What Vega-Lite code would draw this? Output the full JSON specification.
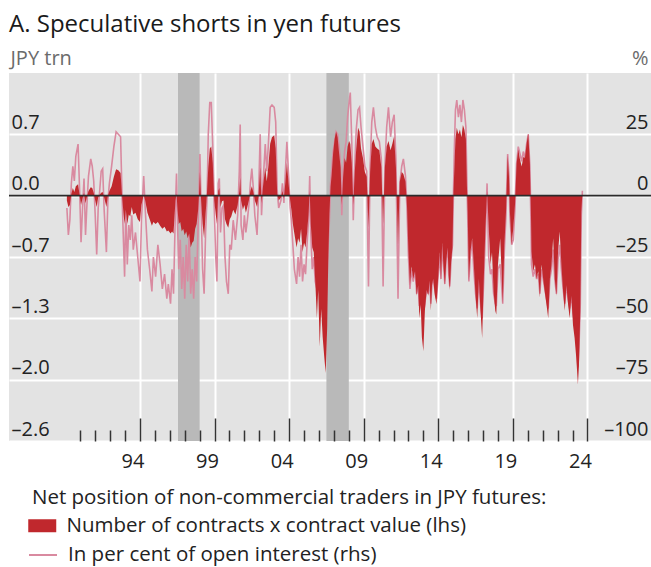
{
  "$schema": "https://vega.github.io/schema/vega-lite/v6.json",
  "width": 642,
  "height": 368,
  "autosize": {"type": "none"},
  "padding": {"left": 9, "top": 73, "right": 0, "bottom": 126},
  "background": "white",
  "config": {
    "view": {"fill": "#e3e3e3", "stroke": null},
    "font": "Open Sans"
  },
  "title": {
    "text": "A. Speculative shorts in yen futures",
    "anchor": "start",
    "frame": "group",
    "fontSize": 24,
    "fontWeight": "normal",
    "color": "#1a1a1a",
    "offset": 11
  },
  "datasets": {
    "bands": [{"s": 1997.55, "e": 1999.0}, {"s": 2007.5, "e": 2009.0}],
    "series": [
      {"t":1990.10,"v":-0.05,"p":-5},{"t":1990.20,"v":-0.12,"p":-16},{"t":1990.30,"v":-0.10,"p":-10},{"t":1990.40,"v":0.02,"p":5},
      {"t":1990.50,"v":0.08,"p":12},{"t":1990.60,"v":0.04,"p":6},{"t":1990.70,"v":0.10,"p":16},{"t":1990.85,"v":0.12,"p":21},
      {"t":1990.95,"v":0.01,"p":3},{"t":1991.05,"v":-0.10,"p":-19},{"t":1991.15,"v":-0.03,"p":-5},{"t":1991.25,"v":0.03,"p":7},
      {"t":1991.35,"v":-0.08,"p":-16},{"t":1991.45,"v":-0.01,"p":-3},{"t":1991.55,"v":0.05,"p":8},{"t":1991.70,"v":0.09,"p":15},
      {"t":1991.80,"v":0.08,"p":12},{"t":1991.90,"v":0.03,"p":6},{"t":1992.00,"v":-0.05,"p":-8},{"t":1992.10,"v":-0.12,"p":-24},
      {"t":1992.20,"v":-0.02,"p":-5},{"t":1992.30,"v":0.01,"p":2},{"t":1992.40,"v":0.03,"p":10},{"t":1992.50,"v":0.04,"p":11},
      {"t":1992.60,"v":-0.02,"p":-6},{"t":1992.75,"v":-0.12,"p":-23},{"t":1992.85,"v":0.00,"p":-2},{"t":1992.95,"v":0.05,"p":5},
      {"t":1993.10,"v":0.10,"p":12},{"t":1993.25,"v":0.20,"p":20},{"t":1993.40,"v":0.28,"p":26},{"t":1993.55,"v":0.27,"p":25},
      {"t":1993.70,"v":0.24,"p":24},{"t":1993.80,"v":0.00,"p":0},{"t":1993.90,"v":-0.20,"p":-20},{"t":1993.97,"v":-0.30,"p":-33},
      {"t":1994.05,"v":-0.15,"p":-5},{"t":1994.15,"v":-0.30,"p":-28},{"t":1994.25,"v":-0.20,"p":-12},{"t":1994.35,"v":-0.22,"p":-18},
      {"t":1994.45,"v":-0.12,"p":-8},{"t":1994.55,"v":-0.20,"p":-22},{"t":1994.70,"v":-0.18,"p":-15},{"t":1994.85,"v":-0.25,"p":-25},
      {"t":1995.00,"v":-0.28,"p":-35},{"t":1995.10,"v":-0.10,"p":-10},{"t":1995.25,"v":0.01,"p":8},{"t":1995.35,"v":-0.05,"p":-5},
      {"t":1995.50,"v":-0.18,"p":-22},{"t":1995.65,"v":-0.25,"p":-30},{"t":1995.80,"v":-0.32,"p":-39},{"t":1995.90,"v":-0.28,"p":-25},
      {"t":1996.05,"v":-0.30,"p":-33},{"t":1996.20,"v":-0.28,"p":-20},{"t":1996.35,"v":-0.32,"p":-28},{"t":1996.50,"v":-0.35,"p":-38},
      {"t":1996.65,"v":-0.33,"p":-32},{"t":1996.80,"v":-0.38,"p":-42},{"t":1996.90,"v":-0.37,"p":-36},{"t":1997.05,"v":-0.40,"p":-44},
      {"t":1997.15,"v":-0.38,"p":-30},{"t":1997.25,"v":-0.40,"p":-40},{"t":1997.38,"v":-0.05,"p":-5},{"t":1997.45,"v":0.02,"p":9},
      {"t":1997.52,"v":-0.15,"p":-12},{"t":1997.60,"v":-0.30,"p":-30},{"t":1997.70,"v":-0.28,"p":-18},{"t":1997.80,"v":-0.38,"p":-38},
      {"t":1997.90,"v":-0.35,"p":-25},{"t":1998.00,"v":-0.42,"p":-42},{"t":1998.10,"v":-0.38,"p":-20},{"t":1998.20,"v":-0.45,"p":-35},
      {"t":1998.30,"v":-0.40,"p":-15},{"t":1998.40,"v":-0.55,"p":-40},{"t":1998.50,"v":-0.50,"p":-30},{"t":1998.60,"v":-0.48,"p":-42},
      {"t":1998.70,"v":-0.35,"p":-25},{"t":1998.80,"v":-0.30,"p":-35},{"t":1998.90,"v":-0.15,"p":-12},{"t":1998.97,"v":0.05,"p":5},
      {"t":1999.02,"v":0.25,"p":17},{"t":1999.10,"v":-0.05,"p":-5},{"t":1999.20,"v":-0.30,"p":-30},{"t":1999.30,"v":-0.45,"p":-40},
      {"t":1999.40,"v":-0.20,"p":-15},{"t":1999.50,"v":0.05,"p":0},{"t":1999.58,"v":0.30,"p":25},{"t":1999.68,"v":0.50,"p":38},
      {"t":1999.78,"v":0.52,"p":38},{"t":1999.88,"v":0.35,"p":20},{"t":1999.98,"v":-0.05,"p":-5},{"t":2000.08,"v":-0.20,"p":-25},
      {"t":2000.16,"v":-0.30,"p":-35},{"t":2000.25,"v":0.05,"p":5},{"t":2000.32,"v":0.08,"p":7},{"t":2000.40,"v":-0.12,"p":-15},
      {"t":2000.50,"v":-0.06,"p":-5},{"t":2000.60,"v":-0.05,"p":-4},{"t":2000.70,"v":-0.25,"p":-25},{"t":2000.80,"v":-0.30,"p":-35},
      {"t":2000.92,"v":-0.34,"p":-40},{"t":2001.02,"v":-0.25,"p":-20},{"t":2001.12,"v":-0.22,"p":-22},{"t":2001.25,"v":-0.15,"p":-10},
      {"t":2001.40,"v":-0.20,"p":-18},{"t":2001.55,"v":-0.10,"p":-8},{"t":2001.66,"v":0.05,"p":10},{"t":2001.72,"v":0.19,"p":29},
      {"t":2001.78,"v":-0.05,"p":-12},{"t":2001.90,"v":-0.15,"p":-18},{"t":2002.00,"v":-0.10,"p":-8},{"t":2002.10,"v":-0.18,"p":-15},
      {"t":2002.20,"v":-0.12,"p":-10},{"t":2002.30,"v":-0.05,"p":-4},{"t":2002.40,"v":0.05,"p":5},{"t":2002.50,"v":0.10,"p":11},
      {"t":2002.60,"v":0.04,"p":3},{"t":2002.70,"v":-0.05,"p":-8},{"t":2002.85,"v":-0.12,"p":-16},{"t":2002.95,"v":0.00,"p":0},
      {"t":2003.06,"v":0.30,"p":25},{"t":2003.15,"v":-0.08,"p":-8},{"t":2003.25,"v":0.10,"p":5},{"t":2003.40,"v":0.30,"p":21},
      {"t":2003.50,"v":0.15,"p":10},{"t":2003.60,"v":0.30,"p":20},{"t":2003.73,"v":0.55,"p":36},{"t":2003.85,"v":0.62,"p":37},
      {"t":2004.00,"v":0.64,"p":36},{"t":2004.10,"v":0.50,"p":30},{"t":2004.20,"v":0.02,"p":2},{"t":2004.30,"v":-0.05,"p":-5},
      {"t":2004.45,"v":-0.02,"p":-2},{"t":2004.55,"v":0.05,"p":5},{"t":2004.65,"v":-0.03,"p":-3},{"t":2004.75,"v":0.15,"p":10},
      {"t":2004.85,"v":0.35,"p":22},{"t":2004.95,"v":0.15,"p":10},{"t":2005.07,"v":-0.05,"p":-5},{"t":2005.15,"v":-0.15,"p":-10},
      {"t":2005.25,"v":-0.30,"p":-20},{"t":2005.35,"v":-0.40,"p":-30},{"t":2005.50,"v":-0.55,"p":-36},{"t":2005.60,"v":-0.45,"p":-25},
      {"t":2005.70,"v":-0.50,"p":-33},{"t":2005.80,"v":-0.35,"p":-20},{"t":2005.90,"v":-0.60,"p":-35},{"t":2006.00,"v":-0.50,"p":-28},
      {"t":2006.10,"v":-0.55,"p":-32},{"t":2006.20,"v":-0.40,"p":-20},{"t":2006.30,"v":-0.20,"p":-10},{"t":2006.38,"v":0.05,"p":8},
      {"t":2006.45,"v":-0.30,"p":-15},{"t":2006.55,"v":-0.55,"p":-30},{"t":2006.65,"v":-0.60,"p":-25},{"t":2006.75,"v":-0.90,"p":-35},
      {"t":2006.86,"v":-1.30,"p":-38},{"t":2006.95,"v":-1.00,"p":-30},{"t":2007.05,"v":-1.60,"p":-40},{"t":2007.15,"v":-1.20,"p":-35},
      {"t":2007.25,"v":-1.50,"p":-38},{"t":2007.35,"v":-1.70,"p":-42},{"t":2007.45,"v":-1.88,"p":-45},{"t":2007.55,"v":-1.40,"p":-35},
      {"t":2007.62,"v":-0.70,"p":-20},{"t":2007.70,"v":-0.20,"p":-10},{"t":2007.78,"v":0.10,"p":5},{"t":2007.85,"v":0.22,"p":10},
      {"t":2007.95,"v":0.45,"p":18},{"t":2008.05,"v":0.60,"p":22},{"t":2008.15,"v":0.68,"p":26},{"t":2008.25,"v":0.62,"p":25},
      {"t":2008.35,"v":0.45,"p":20},{"t":2008.45,"v":0.30,"p":12},{"t":2008.53,"v":-0.10,"p":-8},{"t":2008.62,"v":0.20,"p":10},
      {"t":2008.72,"v":0.40,"p":18},{"t":2008.82,"v":0.35,"p":22},{"t":2008.92,"v":0.52,"p":32},{"t":2009.02,"v":0.58,"p":38},
      {"t":2009.10,"v":0.55,"p":42},{"t":2009.20,"v":0.35,"p":22},{"t":2009.30,"v":-0.10,"p":-10},{"t":2009.40,"v":0.25,"p":12},
      {"t":2009.50,"v":0.50,"p":27},{"t":2009.62,"v":0.72,"p":35},{"t":2009.72,"v":0.68,"p":36},{"t":2009.82,"v":0.50,"p":28},
      {"t":2009.95,"v":0.40,"p":20},{"t":2010.08,"v":0.25,"p":12},{"t":2010.20,"v":0.20,"p":10},{"t":2010.32,"v":-0.34,"p":-37},
      {"t":2010.43,"v":0.25,"p":12},{"t":2010.54,"v":0.55,"p":30},{"t":2010.65,"v":0.60,"p":36},{"t":2010.78,"v":0.52,"p":28},
      {"t":2010.90,"v":0.50,"p":24},{"t":2011.05,"v":0.48,"p":22},{"t":2011.18,"v":0.30,"p":15},{"t":2011.30,"v":-0.30,"p":-37},
      {"t":2011.42,"v":0.30,"p":12},{"t":2011.54,"v":0.52,"p":28},{"t":2011.66,"v":0.58,"p":36},{"t":2011.80,"v":0.48,"p":24},
      {"t":2011.92,"v":0.55,"p":30},{"t":2012.04,"v":0.63,"p":33},{"t":2012.16,"v":0.30,"p":15},{"t":2012.30,"v":-0.52,"p":-42},
      {"t":2012.42,"v":0.15,"p":5},{"t":2012.55,"v":0.25,"p":12},{"t":2012.66,"v":0.23,"p":15},{"t":2012.80,"v":0.15,"p":8},
      {"t":2012.90,"v":-0.10,"p":-5},{"t":2013.00,"v":-0.60,"p":-25},{"t":2013.10,"v":-0.95,"p":-38},{"t":2013.20,"v":-0.75,"p":-30},
      {"t":2013.32,"v":-0.88,"p":-35},{"t":2013.44,"v":-0.80,"p":-30},{"t":2013.55,"v":-1.06,"p":-40},{"t":2013.65,"v":-0.95,"p":-36},
      {"t":2013.73,"v":-1.30,"p":-45},{"t":2013.82,"v":-1.15,"p":-42},{"t":2013.90,"v":-1.50,"p":-47},{"t":2014.00,"v":-1.65,"p":-48},
      {"t":2014.10,"v":-1.22,"p":-44},{"t":2014.22,"v":-1.00,"p":-38},{"t":2014.33,"v":-1.06,"p":-40},{"t":2014.42,"v":-0.90,"p":-34},
      {"t":2014.50,"v":-1.22,"p":-44},{"t":2014.58,"v":-0.95,"p":-36},{"t":2014.66,"v":-0.88,"p":-33},{"t":2014.76,"v":-1.05,"p":-38},
      {"t":2014.88,"v":-1.15,"p":-42},{"t":2015.00,"v":-0.85,"p":-32},{"t":2015.10,"v":-0.60,"p":-24},{"t":2015.18,"v":-0.90,"p":-34},
      {"t":2015.26,"v":-0.50,"p":-20},{"t":2015.35,"v":-0.75,"p":-28},{"t":2015.44,"v":-0.95,"p":-36},{"t":2015.53,"v":-0.70,"p":-26},
      {"t":2015.62,"v":-0.55,"p":-20},{"t":2015.70,"v":-0.85,"p":-32},{"t":2015.77,"v":-1.00,"p":-37},{"t":2015.86,"v":-0.70,"p":-26},
      {"t":2015.95,"v":-0.55,"p":-20},{"t":2016.02,"v":0.05,"p":2},{"t":2016.08,"v":0.30,"p":20},{"t":2016.15,"v":0.60,"p":35},
      {"t":2016.24,"v":0.72,"p":39},{"t":2016.35,"v":0.65,"p":32},{"t":2016.45,"v":0.70,"p":37},{"t":2016.55,"v":0.62,"p":30},
      {"t":2016.65,"v":0.75,"p":39},{"t":2016.75,"v":0.70,"p":35},{"t":2016.85,"v":0.60,"p":28},{"t":2016.92,"v":0.10,"p":5},
      {"t":2016.97,"v":-0.17,"p":-8},{"t":2017.05,"v":-0.90,"p":-35},{"t":2017.16,"v":-0.59,"p":-24},{"t":2017.27,"v":-0.45,"p":-18},
      {"t":2017.38,"v":-0.73,"p":-30},{"t":2017.50,"v":-1.06,"p":-40},{"t":2017.61,"v":-1.30,"p":-46},{"t":2017.72,"v":-0.88,"p":-34},
      {"t":2017.83,"v":-1.22,"p":-44},{"t":2017.94,"v":-1.51,"p":-50},{"t":2018.05,"v":-0.88,"p":-34},{"t":2018.16,"v":-0.34,"p":-15},
      {"t":2018.27,"v":0.05,"p":5},{"t":2018.38,"v":-0.34,"p":-25},{"t":2018.50,"v":-0.73,"p":-32},{"t":2018.60,"v":-0.60,"p":-30},
      {"t":2018.71,"v":-1.02,"p":-40},{"t":2018.82,"v":-1.22,"p":-44},{"t":2018.89,"v":-1.26,"p":-45},{"t":2019.00,"v":-0.73,"p":-30},
      {"t":2019.15,"v":-0.45,"p":-28},{"t":2019.26,"v":-0.88,"p":-38},{"t":2019.32,"v":-1.15,"p":-44},{"t":2019.43,"v":-0.52,"p":-22},
      {"t":2019.54,"v":-0.17,"p":-8},{"t":2019.65,"v":0.43,"p":17},{"t":2019.74,"v":0.20,"p":8},{"t":2019.80,"v":-0.17,"p":-8},
      {"t":2019.92,"v":-0.52,"p":-20},{"t":2020.03,"v":-0.34,"p":-18},{"t":2020.14,"v":-0.10,"p":-5},{"t":2020.25,"v":0.34,"p":13},
      {"t":2020.36,"v":0.49,"p":20},{"t":2020.48,"v":0.38,"p":17},{"t":2020.59,"v":0.31,"p":14},{"t":2020.70,"v":0.41,"p":18},
      {"t":2020.81,"v":0.40,"p":15},{"t":2020.92,"v":0.55,"p":21},{"t":2021.03,"v":0.66,"p":25},{"t":2021.14,"v":0.34,"p":12},
      {"t":2021.21,"v":-0.17,"p":-10},{"t":2021.25,"v":-0.59,"p":-28},{"t":2021.36,"v":-0.80,"p":-33},{"t":2021.48,"v":-0.73,"p":-30},
      {"t":2021.59,"v":-0.88,"p":-34},{"t":2021.70,"v":-0.80,"p":-32},{"t":2021.81,"v":-1.08,"p":-40},{"t":2021.92,"v":-0.73,"p":-30},
      {"t":2022.03,"v":-0.88,"p":-34},{"t":2022.14,"v":-1.02,"p":-38},{"t":2022.25,"v":-1.15,"p":-42},{"t":2022.37,"v":-1.30,"p":-46},
      {"t":2022.48,"v":-0.88,"p":-34},{"t":2022.59,"v":-0.73,"p":-30},{"t":2022.70,"v":-0.45,"p":-22},{"t":2022.81,"v":-0.88,"p":-34},
      {"t":2022.92,"v":-1.06,"p":-40},{"t":2023.03,"v":-0.59,"p":-26},{"t":2023.14,"v":-0.38,"p":-20},{"t":2023.25,"v":-0.73,"p":-30},
      {"t":2023.37,"v":-1.02,"p":-38},{"t":2023.48,"v":-1.22,"p":-44},{"t":2023.59,"v":-0.95,"p":-36},{"t":2023.70,"v":-1.15,"p":-42},
      {"t":2023.81,"v":-1.30,"p":-46},{"t":2023.92,"v":-1.06,"p":-40},{"t":2024.03,"v":-1.37,"p":-48},{"t":2024.14,"v":-1.51,"p":-52},
      {"t":2024.25,"v":-1.72,"p":-58},{"t":2024.36,"v":-2.00,"p":-70},{"t":2024.43,"v":-1.80,"p":-62},{"t":2024.52,"v":-1.22,"p":-44},
      {"t":2024.59,"v":-0.17,"p":-8},{"t":2024.66,"v":0.03,"p":2}
    ]
  },
  "layer": [
    {
      "data": {"name": "bands"},
      "mark": {"type": "rect", "color": "#b9b9b9"},
      "encoding": {
        "x": {
          "field": "s", "type": "quantitative",
          "scale": {"domain": [1986.22, 2029.26], "nice": false, "zero": false},
          "axis": {
            "orient": "bottom",
            "values": [1995, 2000, 2005, 2010, 2015, 2020, 2025],
            "grid": true, "gridColor": "white", "gridWidth": 2, "gridOpacity": 1,
            "ticks": false, "labels": false, "domain": false, "title": null, "zindex": 0
          }
        },
        "x2": {"field": "e"}
      }
    },
    {
      "data": {"name": "series"},
      "mark": {"type": "line", "strokeWidth": 1.6, "interpolate": "linear"},
      "encoding": {
        "x": {
          "field": "t", "type": "quantitative",
          "scale": {"domain": [1986.22, 2029.26], "nice": false, "zero": false},
          "axis": {
            "orient": "bottom",
            "values": [1991,1992,1993,1994,1996,1997,1998,1999,2001,2002,2003,2004,2006,2007,2008,2009,2011,2012,2013,2014,2016,2017,2018,2019,2021,2022,2023,2024],
            "grid": false, "ticks": true, "tickSize": -11, "tickColor": "#333333", "tickWidth": 1.5,
            "labels": false, "domain": false, "title": null, "zindex": 1
          }
        },
        "y": {
          "field": "p", "type": "quantitative",
          "scale": {"domain": [-100, 50], "nice": false, "zero": false},
          "axis": {
            "orient": "right",
            "values": [25, 0, -25, -50, -75, -100],
            "labelExpr": "datum.value < 0 ? '–' + format(-datum.value, 'd') : format(datum.value, 'd')",
            "grid": false, "ticks": false, "tickSize": 0, "domain": false,
            "labelAlign": "right", "labelBaseline": "alphabetic", "labelPadding": -3, "labelOffset": -6,
            "labelFontSize": 20, "labelColor": "#222222", "labelFlush": false,
            "title": "%", "titleAngle": 0, "titleAlign": "right", "titleBaseline": "alphabetic",
            "titleX": -3, "titleY": -9, "titleFontSize": 20, "titleFontWeight": "normal", "titleColor": "#6b6b6b",
            "zindex": 1
          }
        },
        "stroke": {
          "datum": "In per cent of open interest (rhs)", "type": "nominal",
          "scale": {"domain": ["In per cent of open interest (rhs)"], "range": ["#d98aa0"]},
          "legend": {
            "orient": "none", "legendX": 23, "legendY": 471, "direction": "vertical",
            "title": null,
            "labelFontSize": 20.5, "labelColor": "#222222", "labelLimit": 700, "labelOffset": 14,
            "symbolType": "M-1.4,0H1.4", "symbolSize": 400, "symbolStrokeWidth": 2,
            "symbolFillColor": "transparent", "symbolStrokeColor": "#d98aa0",
            "rowPadding": 0, "padding": 0
          }
        }
      }
    },
    {
      "data": {"name": "series"},
      "mark": {"type": "area", "opacity": 1, "interpolate": "linear"},
      "encoding": {
        "x": {
          "field": "t", "type": "quantitative",
          "scale": {"domain": [1986.22, 2029.26], "nice": false, "zero": false},
          "axis": {
            "orient": "bottom",
            "values": [1995, 2000, 2005, 2010, 2015, 2020, 2025],
            "grid": false, "ticks": true, "tickSize": -23, "tickColor": "#333333", "tickWidth": 1.5,
            "labels": true, "labelExpr": "format((datum.value - 1) % 100, '02d')",
            "labelOffset": -7.5, "labelPadding": 33, "labelFontSize": 20, "labelColor": "#222222",
            "labelFlush": false, "labelOverlap": false,
            "domain": false, "title": null, "zindex": 1
          }
        },
        "y": {
          "field": "v", "type": "quantitative",
          "scale": {"domain": [-2.6, 1.3], "nice": false, "zero": false},
          "axis": {
            "orient": "left",
            "values": [0.65, 0, -0.65, -1.3, -1.95, -2.6],
            "labelExpr": "datum.value < 0 ? '–' + format(round(-datum.value * 10) / 10, '.1f') : format(round(datum.value * 10) / 10, '.1f')",
            "grid": true, "gridColor": "white", "gridWidth": 2, "gridOpacity": 1,
            "ticks": false, "tickSize": 0, "domain": false,
            "labelAlign": "left", "labelBaseline": "alphabetic", "labelPadding": -2, "labelOffset": -6,
            "labelFontSize": 20, "labelColor": "#222222", "labelFlush": false,
            "title": "JPY trn", "titleAngle": 0, "titleAlign": "left", "titleBaseline": "alphabetic",
            "titleX": 1, "titleY": -9, "titleFontSize": 20, "titleFontWeight": "normal", "titleColor": "#6b6b6b",
            "zindex": 0
          }
        },
        "y2": {"datum": 0},
        "fill": {
          "datum": "Number of contracts x contract value (lhs)", "type": "nominal",
          "scale": {"domain": ["Number of contracts x contract value (lhs)"], "range": ["#c0282d"]},
          "legend": {
            "orient": "none", "legendX": 23, "legendY": 415, "direction": "vertical",
            "title": "Net position of non-commercial traders in JPY futures:",
            "titleFontSize": 20.5, "titleFontWeight": "normal", "titleColor": "#222222", "titleLimit": 700, "titlePadding": 7,
            "labelFontSize": 20.5, "labelColor": "#222222", "labelLimit": 700, "labelOffset": 14,
            "symbolType": "M-1.4,-0.65H1.4V0.65H-1.4Z", "symbolSize": 400, "symbolStrokeWidth": 0,
            "symbolOpacity": 1,
            "rowPadding": 0, "padding": 0
          }
        }
      }
    },
    {
      "data": {"values": [{"z": 0}]},
      "mark": {"type": "rule", "color": "#2b2b2b", "strokeWidth": 1.6},
      "encoding": {
        "y": {
          "field": "z", "type": "quantitative",
          "scale": {"domain": [-2.6, 1.3], "nice": false, "zero": false},
          "axis": null
        }
      }
    }
  ],
  "resolve": {
    "scale": {"y": "independent"},
    "axis": {"x": "independent", "y": "independent"}
  }
}
